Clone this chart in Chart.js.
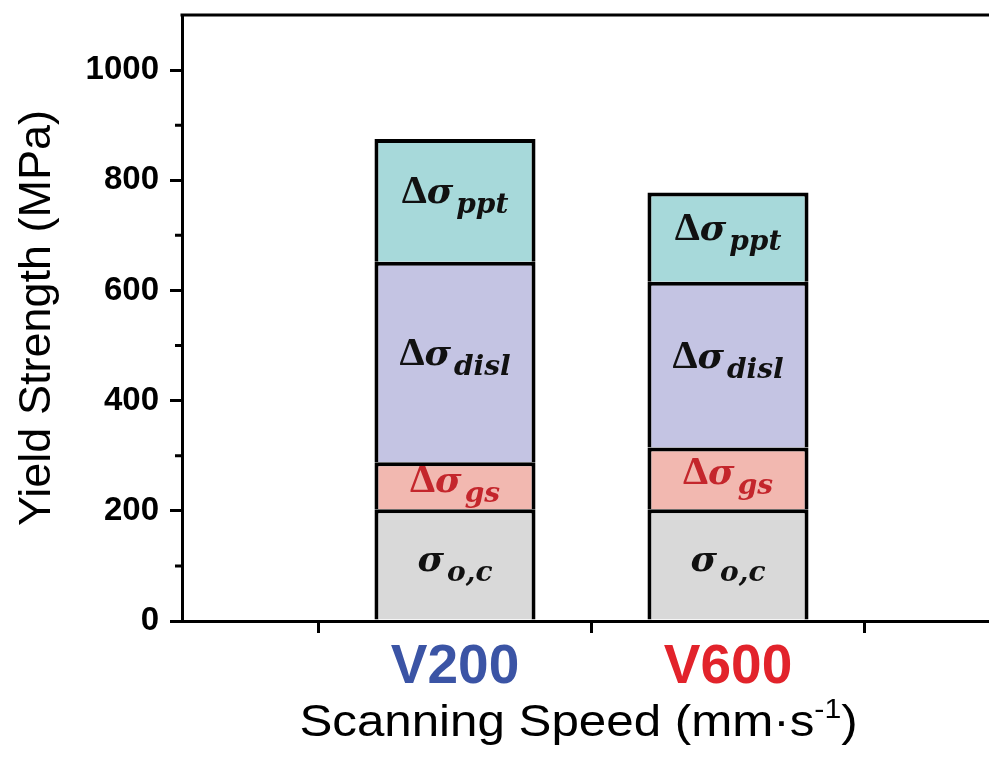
<!DOCTYPE html>
<html>
<head>
<meta charset="utf-8">
<script src="https://cdn.jsdelivr.net/npm/chart.js@4.4.1/dist/chart.umd.min.js"></script>
<style>
  html, body { margin: 0; padding: 0; background: #fff; overflow: hidden; }
  #wrap { width: 989px; height: 758px; overflow: hidden; }
</style>
</head>
<body>
<div id="wrap"><canvas id="strengthChart" width="1010" height="758"></canvas></div>
<script>
// categories (empty ends keep the frame wide like the original)
const speeds = ['', 'V200', 'V600', ''];
const speedColors = ['#000', '#3b54a5', '#e2232b', '#000'];

// stacked contributions, MPa
const frictionStress = [null, 203, 203, null];  // σo,c
const grainSize      = [null, 85, 112, null];   // Δσgs
const dislocation    = [null, 364, 301, null];  // Δσdisl
const precipitate    = [null, 223, 162, null];  // Δσppt

const yTickValues = [0, 200, 400, 600, 800, 1000];
const yMax = 1100;

const FONT = '"Liberation Sans", Arial, sans-serif';

function drawSymbol(ctx, delta, sub, cx, cy, color, dy) {
  const fDelta = 'bold 40px "Liberation Serif", serif';
  const fSigma = 'bold italic 36px "DejaVu Serif", serif';
  const fSub = 'bold italic 28px "DejaVu Serif", serif';
  ctx.font = fDelta;
  const wD = delta ? ctx.measureText('Δ').width : 0;
  ctx.font = fSigma;
  const wS = ctx.measureText('σ').width + 3;
  ctx.font = fSub;
  const wSub = ctx.measureText(sub).width;
  let x = cx - (wD + wS + wSub) / 2;
  ctx.fillStyle = color;
  ctx.textBaseline = 'alphabetic';
  ctx.textAlign = 'left';
  if (delta) {
    ctx.font = fDelta;
    ctx.fillText('Δ', x, cy + dy);
    x += wD;
  }
  ctx.font = fSigma;
  ctx.fillText('σ', x, cy + dy);
  x += wS;
  ctx.font = fSub;
  ctx.fillText(sub, x, cy + dy + 10);
}

const segmentLabels = {
  id: 'segmentLabels',
  afterDatasetsDraw(chart) {
    const ctx = chart.ctx;
    ctx.save();
    chart.data.datasets.forEach((ds, i) => {
      const meta = chart.getDatasetMeta(i);
      meta.data.forEach((bar, j) => {
        if (ds.data[j] == null) return;
        drawSymbol(ctx, ds.delta, ds.sub, bar.x, (bar.y + bar.base) / 2, ds.textColor, ds.textDy);
      });
    });
    ctx.restore();
  }
};

// top frame line, minor ticks and the x title with its superscript
const frameAndMinor = {
  id: 'frameAndMinor',
  afterDraw(chart) {
    const ctx = chart.ctx;
    const area = chart.chartArea;
    const xs = chart.scales.x, ys = chart.scales.y;
    ctx.save();
    ctx.strokeStyle = '#000';
    ctx.lineWidth = 3;
    ctx.beginPath();
    ctx.moveTo(area.left - 1.5, area.top);
    ctx.lineTo(area.right + 1.5, area.top);
    ctx.moveTo(area.right, area.top);
    ctx.lineTo(area.right, area.bottom);
    ctx.stroke();

    ctx.beginPath();
    for (let k = 0; k < yTickValues.length; k++) {
      const v = yTickValues[k] + 100;
      if (v >= yMax) continue;
      const py = ys.getPixelForValue(v);
      ctx.moveTo(area.left, py);
      ctx.lineTo(area.left - 7, py);
    }
    for (let k = 0; k < speeds.length - 1; k++) {
      const px = (xs.getPixelForValue(k) + xs.getPixelForValue(k + 1)) / 2;
      ctx.moveTo(px, area.bottom);
      ctx.lineTo(px, area.bottom + 7);
    }
    ctx.stroke();

    // x axis title
    const main = 'Scanning Speed (mm·s';
    const sup = '-1';
    const close = ')';
    const cx = (xs.getPixelForValue(1) + xs.getPixelForValue(2)) / 2 - 13;
    ctx.translate(cx, 736);
    ctx.scale(1.12, 1);
    ctx.fillStyle = '#000';
    ctx.textBaseline = 'alphabetic';
    ctx.font = '44px ' + FONT;
    const w1 = ctx.measureText(main).width;
    const w3 = ctx.measureText(close).width;
    ctx.font = '27px ' + FONT;
    const w2 = ctx.measureText(sup).width;
    let x = -(w1 + w2 + w3) / 2;
    ctx.font = '44px ' + FONT;
    ctx.fillText(main, x, 0);
    x += w1;
    ctx.font = '27px ' + FONT;
    ctx.fillText(sup, x, -18);
    x += w2;
    ctx.font = '44px ' + FONT;
    ctx.fillText(close, x, 0);
    ctx.restore();
  }
};

const barStyle = {
  borderColor: '#000',
  borderWidth: 4,
  borderSkipped: 'start',
  barPercentage: 0.59,
  categoryPercentage: 1.0
};

const ctx = document.getElementById('strengthChart').getContext('2d');
new Chart(ctx, {
  type: 'bar',
  data: {
    labels: speeds,
    datasets: [
      Object.assign({ label: 'σo,c', data: frictionStress, backgroundColor: '#d9d9d9',
        delta: false, sub: 'o,c', textColor: '#111', textDy: 7 }, barStyle),
      Object.assign({ label: 'Δσgs', data: grainSize, backgroundColor: '#f2b8b0',
        delta: true, sub: 'gs', textColor: '#c4262c', textDy: 6 }, barStyle),
      Object.assign({ label: 'Δσdisl', data: dislocation, backgroundColor: '#c4c4e3',
        delta: true, sub: 'disl', textColor: '#111', textDy: 3 }, barStyle),
      Object.assign({ label: 'Δσppt', data: precipitate, backgroundColor: '#a7d9da',
        delta: true, sub: 'ppt', textColor: '#111', textDy: 3 }, barStyle)
    ]
  },
  options: {
    responsive: false,
    animation: false,
    layout: { padding: { top: 15, right: 9, left: 0, bottom: 0 } },
    plugins: { legend: { display: false }, tooltip: { enabled: false } },
    scales: {
      x: {
        stacked: true,
        offset: false,
        afterFit: scale => { scale.height = 137; },
        border: { display: true, color: '#000', width: 3 },
        grid: { display: true, drawOnChartArea: false, drawTicks: true, tickLength: 12,
          color: '#000', lineWidth: 3 },
        ticks: {
          autoSkip: false,
          maxRotation: 0,
          padding: 7,
          color: c => speedColors[c.index],
          font: { family: FONT, size: 55, weight: 'bold', lineHeight: 1 }
        }
      },
      y: {
        stacked: true,
        min: 0,
        max: yMax,
        afterFit: scale => {
          scale.width = 182;
          scale.paddingTop = 0;
          scale.paddingBottom = 0;
        },
        afterBuildTicks: scale => { scale.ticks = yTickValues.map(v => ({ value: v })); },
        border: { display: true, color: '#000', width: 3 },
        grid: { display: true, drawOnChartArea: false, drawTicks: true, tickLength: 12,
          color: '#000', lineWidth: 3 },
        ticks: {
          padding: 11,
          color: '#000',
          callback: v => String(v),
          font: { family: FONT, size: 33, weight: 'bold' }
        },
        title: {
          display: true,
          text: 'Yield Strength (MPa)',
          color: '#000',
          padding: { top: 11, bottom: 0 },
          font: { family: FONT, size: 45 }
        }
      }
    }
  },
  plugins: [segmentLabels, frameAndMinor]
});
</script>
</body>
</html>
